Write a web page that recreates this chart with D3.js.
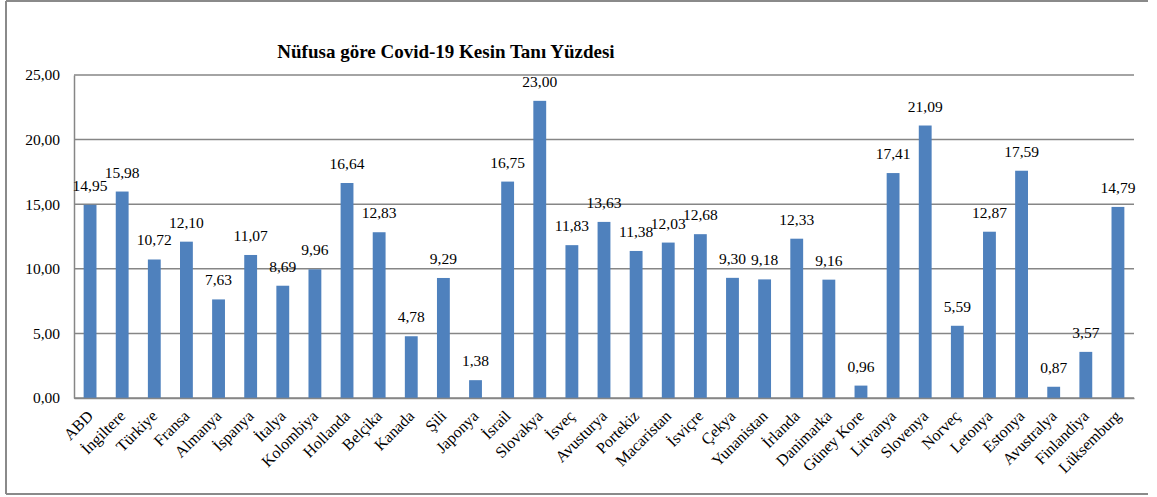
<!DOCTYPE html>
<html><head><meta charset="utf-8">
<script src="https://cdn.jsdelivr.net/npm/d3@7"></script>
<style>body{margin:0;background:#fff}svg{display:block}</style>
</head><body>
<script>
const categories = ["ABD","İngiltere","Türkiye","Fransa","Almanya","İspanya","İtalya","Kolombiya","Hollanda","Belçika","Kanada","Şili","Japonya","İsrail","Slovakya","İsveç","Avusturya","Portekiz","Macaristan","İsviçre","Çekya","Yunanistan","İrlanda","Danimarka","Güney Kore","Litvanya","Slovenya","Norveç","Letonya","Estonya","Avustralya","Finlandiya","Lüksemburg"];
const values = [14.95,15.98,10.72,12.10,7.63,11.07,8.69,9.96,16.64,12.83,4.78,9.29,1.38,16.75,23.00,11.83,13.63,11.38,12.03,12.68,9.30,9.18,12.33,9.16,0.96,17.41,21.09,5.59,12.87,17.59,0.87,3.57,14.79];
const yTicks = [0,5,10,15,20,25];
const title = "Nüfusa göre Covid-19 Kesin Tanı Yüzdesi";

(function(){
const W = 1157, H = 497;
const pL = 74, pR = 1134, pT = 75, pB = 398;
const FF = '"Liberation Serif"';
const fmt = v => v.toFixed(2).replace(".", ",");

const svg = d3.select("body").append("svg").attr("width", W).attr("height", H);

// outer border
const bc = "#8a8a8a";
svg.append("line").attr("x1",6).attr("x2",6).attr("y1",1).attr("y2",494).attr("stroke",bc).attr("stroke-width",2);
svg.append("line").attr("x1",6).attr("x2",1148).attr("y1",1).attr("y2",1).attr("stroke",bc).attr("stroke-width",2);
svg.append("line").attr("x1",6).attr("x2",1148).attr("y1",494).attr("y2",494).attr("stroke",bc).attr("stroke-width",2);

const x = d3.scaleBand().domain(categories).range([pL, pR]).paddingInner(0.6).paddingOuter(0.3);
const y = d3.scaleLinear().domain([0, 25]).range([pB, pT]);

// title
svg.append("text").attr("x", 446).attr("y", 58).attr("text-anchor","middle")
  .style("font-family", FF).style("font-weight","bold").style("font-size","19px").attr("fill","#000").text(title);

// gridlines
svg.append("g").selectAll("line").data(yTicks).join("line")
  .attr("x1", pL).attr("x2", pR).attr("y1", d => y(d)).attr("y2", d => y(d))
  .attr("stroke", "#868686").attr("stroke-width", 1.5);

// y axis
const yAxis = svg.append("g").attr("transform", `translate(${pL},0)`)
  .call(d3.axisLeft(y).tickValues(yTicks).tickFormat(fmt).tickSize(0).tickPadding(14));
yAxis.attr("font-family", null).attr("font-size", null);
yAxis.select(".domain").attr("stroke", "#868686").attr("stroke-width", 1.5);
yAxis.selectAll("text").style("font-size","15.5px").style("font-family", FF).attr("fill","#000");

// bars
svg.append("g").selectAll("rect").data(values).join("rect")
  .attr("x", (d,i) => x(categories[i]))
  .attr("width", x.bandwidth())
  .attr("y", d => y(d))
  .attr("height", d => y(0) - y(d))
  .attr("fill", "#4F81BD");

// data labels
svg.append("g").selectAll("text").data(values).join("text")
  .attr("x", (d,i) => x(categories[i]) + x.bandwidth()/2)
  .attr("y", d => y(d) - 14)
  .attr("text-anchor","middle").style("font-size","15.5px").style("font-family", FF).attr("fill","#000")
  .text(fmt);

// x axis
const xAxis = svg.append("g").attr("transform", `translate(0,${pB})`)
  .call(d3.axisBottom(x).tickSize(0).tickPadding(0));
xAxis.attr("font-family", null).attr("font-size", null);
xAxis.select(".domain").attr("stroke", "#868686").attr("stroke-width", 1.5);
xAxis.selectAll("text")
  .attr("text-anchor","end").attr("dy", 0).attr("y", 0)
  .attr("transform", "translate(4,19) rotate(-45)")
  .style("font-size","16px").style("font-family", FF).attr("fill","#000");
})();
</script>
</body></html>
